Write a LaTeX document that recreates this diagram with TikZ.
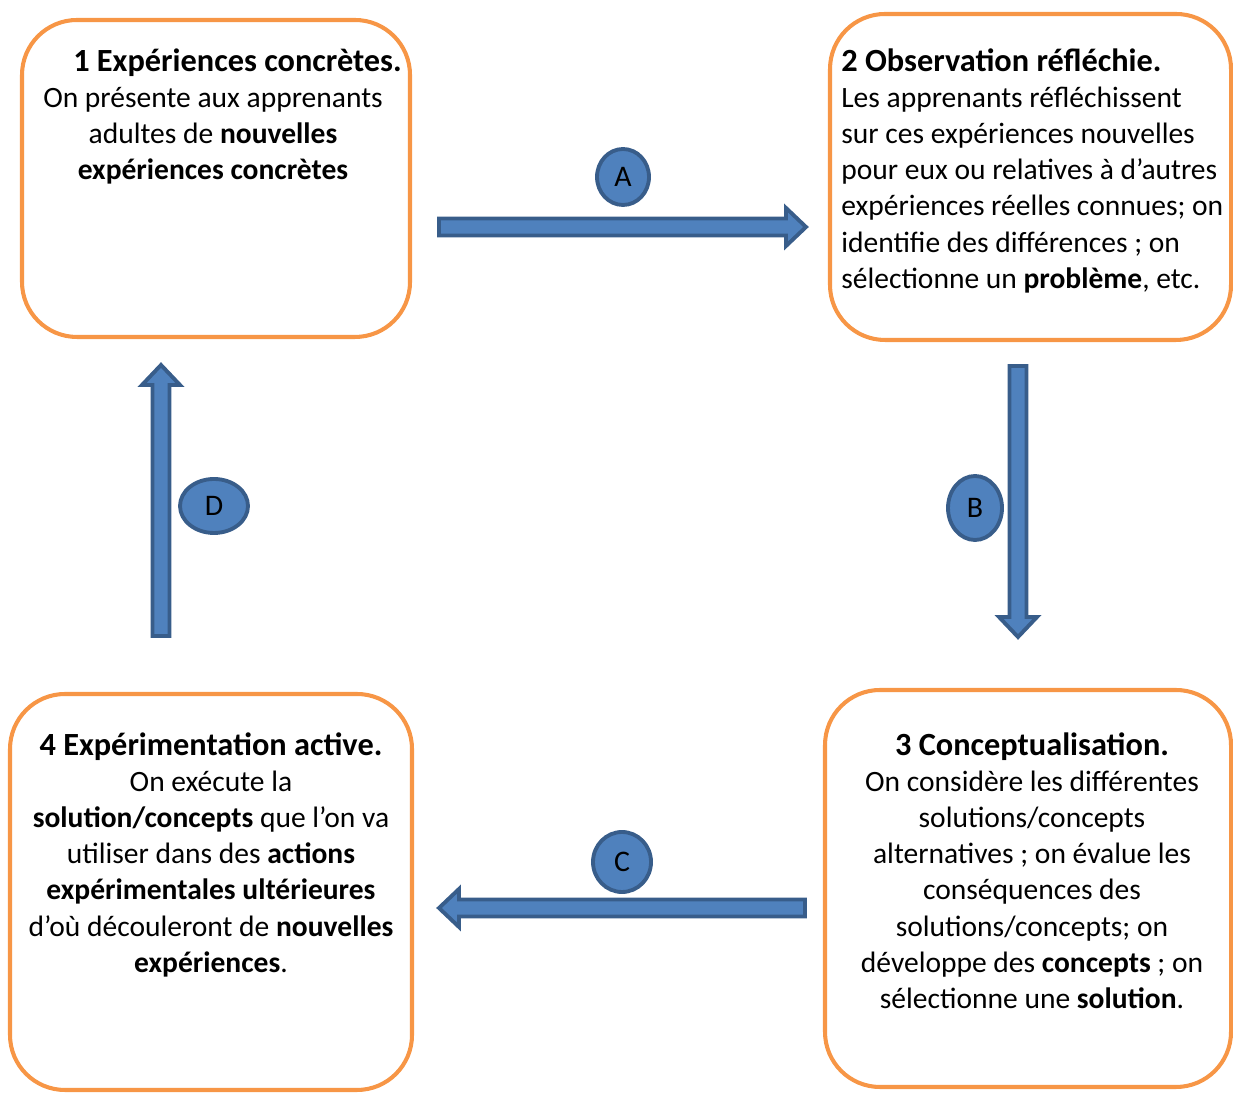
\documentclass[tikz,border=0pt]{standalone}
\usepackage{fontspec}
\setmainfont{Carlito}
\usepackage{tikz}
\usetikzlibrary{positioning,shapes.geometric}
\definecolor{orangeb}{HTML}{F79646}
\definecolor{bluef}{HTML}{4F81BD}
\definecolor{blued}{HTML}{385D8A}
\tikzset{
  stage/.style={draw=orangeb, line width=2.3pt, rounded corners=1.1cm, fill=white},
  txt/.style={inner sep=0pt, font=\fontsize{16.8}{20.6}\selectfont, align=center},
  txtl/.style={txt, align=left},
  barrow/.style={draw=blued, fill=bluef, line width=2.2pt, line join=miter},
  tag/.style={ellipse, draw=blued, fill=bluef, line width=2.2pt, inner sep=0pt, font=\fontsize{17}{20}\selectfont},
}
\newcommand{\ttl}[1]{{\fontsize{18.4}{20.6}\selectfont\bfseries #1}}
% block arrow: start coordinate, angle, length
\newcommand{\blockarrow}[3]{%
  \begin{scope}[shift={(#1)}, rotate=#2]
    \draw[barrow] (0,-\sw) -- ({#3-\hl},-\sw) -- ({#3-\hl},-\hw) -- (#3,0)
      -- ({#3-\hl},\hw) -- ({#3-\hl},\sw) -- (0,\sw) -- cycle;
  \end{scope}}

\begin{document}
\begin{tikzpicture}
  \def\sw{0.17}
  \def\hw{0.38}
  \def\hl{0.40}
  \useasboundingbox (0,0) rectangle (24.66,21.86);

  % the four stages
  \node[stage, minimum width=7.76cm, minimum height=6.34cm] (s1) at (4.32,18.29) {};
  \node[stage, minimum width=8.02cm, minimum height=6.52cm] (s2) at (20.61,18.32) {};
  \node[stage, minimum width=8.12cm, minimum height=7.94cm] (s3) at (20.56,4.09) {};
  \node[stage, minimum width=8.04cm, minimum height=7.92cm] (s4) at (4.22,4.02) {};

  \node[txt, below=0.6cm of s1.north, xshift=-0.06cm] (t1) {%
    \hspace*{0.98cm}\ttl{1 Expériences concrètes.}\\
    On présente aux apprenants\\
    adultes de \textbf{nouvelles}\\
    \textbf{expériences concrètes}};
  \node[txtl, below right=0.72cm and 0.26cm of s2.north west] (t2) {%
    \ttl{2 Observation réfléchie.}\\
    Les apprenants réfléchissent\\
    sur ces expériences nouvelles\\
    pour eux ou relatives à d’autres\\
    expériences réelles connues; on\\
    identifie des différences ; on\\
    sélectionne un \textbf{problème}, etc.};
  \node[txt, below=0.88cm of s3.north, xshift=0.08cm] (t3) {%
    \ttl{3 Conceptualisation.}\\
    On considère les différentes\\
    solutions/concepts\\
    alternatives ; on évalue les\\
    conséquences des\\
    solutions/concepts; on\\
    développe des \textbf{concepts} ; on\\
    sélectionne une \textbf{solution}.};
  \node[txt, below=0.8cm of s4.north] (t4) {%
    \ttl{4 Expérimentation active.}\\
    On exécute la\\
    \textbf{solution/concepts} que l’on va\\
    utiliser dans des \textbf{actions}\\
    \textbf{expérimentales ultérieures}\\
    d’où découleront de \textbf{nouvelles}\\
    \textbf{expériences}.};

  % arrows between stages
  \coordinate (a0) at (8.78,17.32);
  \coordinate (b0) at (20.36,14.54);
  \coordinate (c0) at (16.10,3.70);
  \coordinate (d0) at (3.22,9.14);
  \blockarrow{a0}{0}{7.34}
  \blockarrow{b0}{-90}{5.42}
  \blockarrow{c0}{180}{7.32}
  \blockarrow{d0}{90}{5.42}

  \node[tag, minimum width=1.04cm, minimum height=1.12cm] (la) at (12.46,18.32) {A};
  \node[tag, minimum width=1.08cm, minimum height=1.28cm] (lb) at (19.50,11.70) {B};
  \node[tag, minimum width=1.16cm, minimum height=1.20cm] (lc) at (12.44,4.62) {C};
  \node[tag, minimum width=1.36cm, minimum height=1.08cm] (ld) at (4.28,11.74) {D};
\end{tikzpicture}
\end{document}
